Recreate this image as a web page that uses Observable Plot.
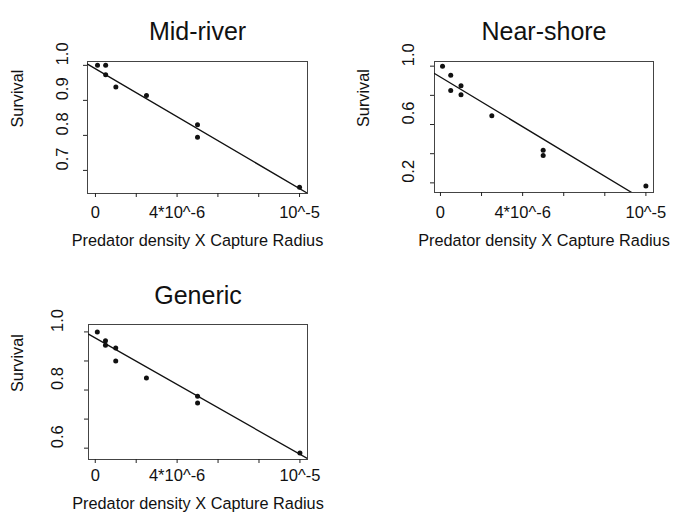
<!DOCTYPE html>
<html><head><meta charset="utf-8">
<script src="https://cdn.jsdelivr.net/npm/d3@7"></script>
<script src="https://cdn.jsdelivr.net/npm/@observablehq/plot@0.6"></script>
<style>
body{margin:0;background:#fff}
#root{position:relative;width:676px;height:520px;overflow:hidden}
#root > svg{position:absolute}
</style>
</head><body><div id="root"></div>
<script>
// ---- data ----
const panelTitles = ["Mid-river", "Near-shore", "Generic"];
const xAxisTitle = "Predator density X Capture Radius";
const yAxisTitle = "Survival";

const midRiverX = [0.1e-6, 0.5e-6, 0.5e-6, 1e-6, 2.5e-6, 5e-6, 5e-6, 10e-6];
const midRiverY = [1.0, 1.0, 0.973, 0.938, 0.914, 0.830, 0.795, 0.652];

const nearShoreX = [0.1e-6, 0.5e-6, 0.5e-6, 1e-6, 1e-6, 2.5e-6, 5e-6, 5e-6, 10e-6];
const nearShoreY = [1.0, 0.938, 0.834, 0.866, 0.804, 0.660, 0.423, 0.388, 0.178];

const genericX = [0.1e-6, 0.5e-6, 0.5e-6, 1e-6, 1e-6, 2.5e-6, 5e-6, 5e-6, 10e-6];
const genericY = [1.0, 0.970, 0.954, 0.945, 0.900, 0.841, 0.779, 0.755, 0.583];

// fitted lines: survival = intercept + slope * (x / 1e-6)
const fitIntercepts = [0.990, 0.925, 0.979];
const fitSlopes = [-0.0342, -0.085, -0.0400];

const xTicks = [0, 2e-6, 4e-6, 6e-6, 8e-6, 10e-6];
const xTickLabels = ["0", "", "4*10^-6", "", "", "10^-5"];

const midRiverYTicks = [0.7, 0.8, 0.9, 1.0];
const midRiverYLabels = ["0.7", "0.8", "0.9", "1.0"];
const nearShoreYTicks = [0.2, 0.4, 0.6, 0.8, 1.0];
const nearShoreYLabels = ["0.2", "", "0.6", "", "1.0"];
const genericYTicks = [0.6, 0.7, 0.8, 0.9, 1.0];
const genericYLabels = ["0.6", "", "0.8", "", "1.0"];

// ---- layout ----
const FONT = "'Liberation Sans', Arial, Helvetica, sans-serif";
const panels = [
  {xs: midRiverX, ys: midRiverY, yTicks: midRiverYTicks, yLabels: midRiverYLabels,
   left: 0, top: 0, m: [61, 31, 67, 87], xDomain: [-0.39e-6, 10.39e-6], yDomain: [0.634, 1.011],
   off: {title: 39, ylab: 25, ytitle: 70, xlab: 24, xtitle: 52}},
  {xs: nearShoreX, ys: nearShoreY, yTicks: nearShoreYTicks, yLabels: nearShoreYLabels,
   left: 338, top: 0, m: [61, 23, 68, 96], xDomain: [-0.29e-6, 10.37e-6], yDomain: [0.134, 1.032],
   off: {title: 39, ylab: 26, ytitle: 71, xlab: 25, xtitle: 53}},
  {xs: genericX, ys: genericY, yTicks: genericYTicks, yLabels: genericYLabels,
   left: 0, top: 260, m: [64, 31, 61, 88], xDomain: [-0.33e-6, 10.37e-6], yDomain: [0.561, 1.0255],
   off: {title: 38, ylab: 31, ytitle: 71, xlab: 21, xtitle: 49}}
];

const root = document.getElementById("root");
panels.forEach((p, k) => {
  const pts = p.xs.map((x, i) => ({x, y: p.ys[i]}));
  const fit = p.xDomain.map(x => ({x, y: fitIntercepts[k] + fitSlopes[k] * (x / 1e-6)}));
  const chart = Plot.plot({
    width: 338, height: 260,
    marginTop: p.m[0], marginRight: p.m[1], marginBottom: p.m[2], marginLeft: p.m[3],
    style: {fontFamily: FONT, fontSize: "16px", background: "transparent", color: "#111"},
    x: {domain: p.xDomain},
    y: {domain: p.yDomain},
    marks: [
      Plot.frame({stroke: "#444", strokeWidth: 1}),
      Plot.axisX(xTicks, {anchor: "bottom", tickSize: 4, tickFormat: () => "", label: null, stroke: "#222"}),
      Plot.axisY(p.yTicks, {anchor: "left", tickSize: 4, tickFormat: () => "", label: null, stroke: "#222"}),
      Plot.text(xTicks, {x: d => d, text: (d, i) => xTickLabels[i], frameAnchor: "bottom", dy: p.off.xlab, fontSize: 16.5, fill: "#111"}),
      Plot.text(p.yTicks, {y: d => d, text: (d, i) => p.yLabels[i], frameAnchor: "left", dx: -p.off.ylab, rotate: -90, fontSize: 16.5, fill: "#111"}),
      Plot.line(fit, {x: "x", y: "y", stroke: "#111", strokeWidth: 1.3, clip: true}),
      Plot.dot(pts, {x: "x", y: "y", r: 2.5, fill: "#111", stroke: "none"}),
      Plot.text([panelTitles[k]], {text: d => d, frameAnchor: "top", dy: -p.off.title, fontSize: 25, fill: "#111"}),
      Plot.text([xAxisTitle], {text: d => d, frameAnchor: "bottom", dy: p.off.xtitle, fontSize: 16.3, fill: "#111"}),
      Plot.text([yAxisTitle], {text: d => d, frameAnchor: "left", dx: -p.off.ytitle, rotate: -90, fontSize: 16.3, fill: "#111"})
    ]
  });
  chart.style.left = p.left + "px";
  chart.style.top = p.top + "px";
  chart.style.overflow = "visible";
  root.appendChild(chart);
});
</script>
</body></html>
